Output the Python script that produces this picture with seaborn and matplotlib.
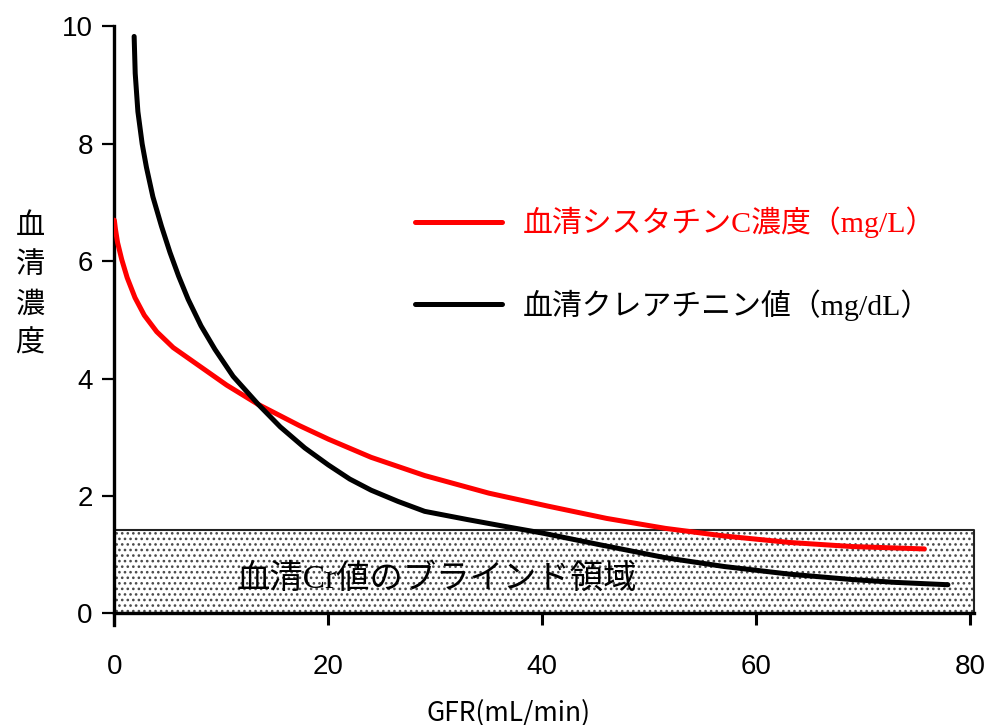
import matplotlib
matplotlib.use('Agg')
import matplotlib.pyplot as plt
import seaborn as sns
import pandas as pd

# values
red_gfr = [0, 0.1, 0.3, 0.69, 1.2, 1.93, 2.8, 3.96, 5.5, 8.0, 10.5, 13.46, 17.3, 20, 24, 29,
           35, 40.5, 46, 51.5, 57, 63.1, 69, 75.7]
red_val = [6.70, 6.55, 6.32, 6.03, 5.72, 5.38, 5.08, 4.80, 4.53, 4.21, 3.89, 3.56, 3.20, 2.97,
           2.66, 2.35, 2.05, 1.83, 1.62, 1.45, 1.32, 1.21, 1.14, 1.10]

cr_gfr = [1.85, 1.95, 2.2, 2.6, 3.0, 3.6, 4.4, 5.2, 6.0, 6.9, 8.1, 9.4, 11.1, 13.46, 15.5, 17.8,
          20, 22, 24, 26.5, 29, 33, 36, 40, 45.4, 51.5, 57, 63.1, 68.8, 73, 77.9]
cr_val = [9.83, 9.2, 8.55, 8.0, 7.6, 7.1, 6.6, 6.15, 5.75, 5.35, 4.9, 4.5, 4.04, 3.56, 3.18, 2.82,
          2.53, 2.29, 2.10, 1.91, 1.74, 1.60, 1.50, 1.37, 1.17, 0.95, 0.80, 0.67, 0.58, 0.53, 0.49]

blind_top = 1.42
blind_right = 80.3
x_ticks = [0, 20, 40, 60, 80]
y_ticks = [0, 2, 4, 6, 8, 10]

cys_label = '血清シスタチンC濃度（mg/L）'
cr_label = '血清クレアチニン値（mg/dL）'
blind_label = '血清Cr値のブラインド領域'

sns.set_style('ticks')
plt.rcParams['font.family'] = ['Liberation Sans', 'Noto Sans CJK JP']
plt.rcParams['text.color'] = 'black'
plt.rcParams['xtick.color'] = 'black'
plt.rcParams['ytick.color'] = 'black'
plt.rcParams['axes.edgecolor'] = 'black'
plt.rcParams['hatch.linewidth'] = 1.1
plt.rcParams['hatch.color'] = '#4a4a4a'
mixed = ['Liberation Serif', 'Noto Sans CJK JP']

df_cys = pd.DataFrame({'gfr': red_gfr, 'val': red_val})
df_cr = pd.DataFrame({'gfr': cr_gfr, 'val': cr_val})

fig = plt.figure(figsize=(9.9, 7.25), dpi=100)
ax = fig.add_axes([0.1155, 0.1538, 0.8755, 0.8097])

# blind zone box
ax.fill_between([0, blind_right], 0, blind_top, facecolor='white', hatch='...',
                edgecolor='#4a4a4a', linewidth=0, zorder=1)
ax.fill_between([0, blind_right], 0, blind_top, facecolor='none',
                edgecolor='#222222', linewidth=1.5, zorder=2)
ax.text(11.4, 0.58, blind_label, fontsize=24, family=mixed, va='center', ha='left', zorder=3)

sns.lineplot(data=df_cys, x='gfr', y='val', color='#ff0000', linewidth=3.6,
             label=cys_label, ax=ax, sort=False, zorder=4)
sns.lineplot(data=df_cr, x='gfr', y='val', color='black', linewidth=3.6,
             label=cr_label, ax=ax, sort=False, zorder=4)

ax.set_xlim(0, 81)
ax.set_ylim(0, 10)
ax.set_xticks(x_ticks)
ax.set_yticks(y_ticks)
ax.set_xlabel('')
ax.set_ylabel('')
sns.despine(ax=ax)
ax.spines['bottom'].set_bounds(0, blind_right)
ax.spines['left'].set_bounds(-0.2, 10)
ax.spines['left'].set_linewidth(2.4)
ax.spines['bottom'].set_linewidth(2.4)
ax.tick_params(axis='y', direction='out', length=8.5, width=1.6, pad=7, labelsize=20)
ax.tick_params(axis='x', direction='out', length=8.5, width=2.2, pad=21, labelsize=20)

fig.text(509 / 990, 1 - 713 / 725, 'GFR(mL/min)', fontsize=19, ha='center', va='center',
         family=['Noto Sans CJK JP'])
fig.text(30 / 990, 1 - 285 / 725, '血\n清\n濃\n度', fontsize=21, ha='center', va='center',
         linespacing=1.4, family=['Noto Sans CJK JP'])

leg = ax.legend(loc='upper left', bbox_to_anchor=(400 / 990, 1 - 192 / 725),
                bbox_transform=fig.transFigure, frameon=False, borderpad=0,
                handlelength=2.9, handletextpad=0.7, labelspacing=1.7,
                prop={'family': mixed, 'size': 21.5}, labelcolor='linecolor')

fig.savefig('out.png', dpi=100)
